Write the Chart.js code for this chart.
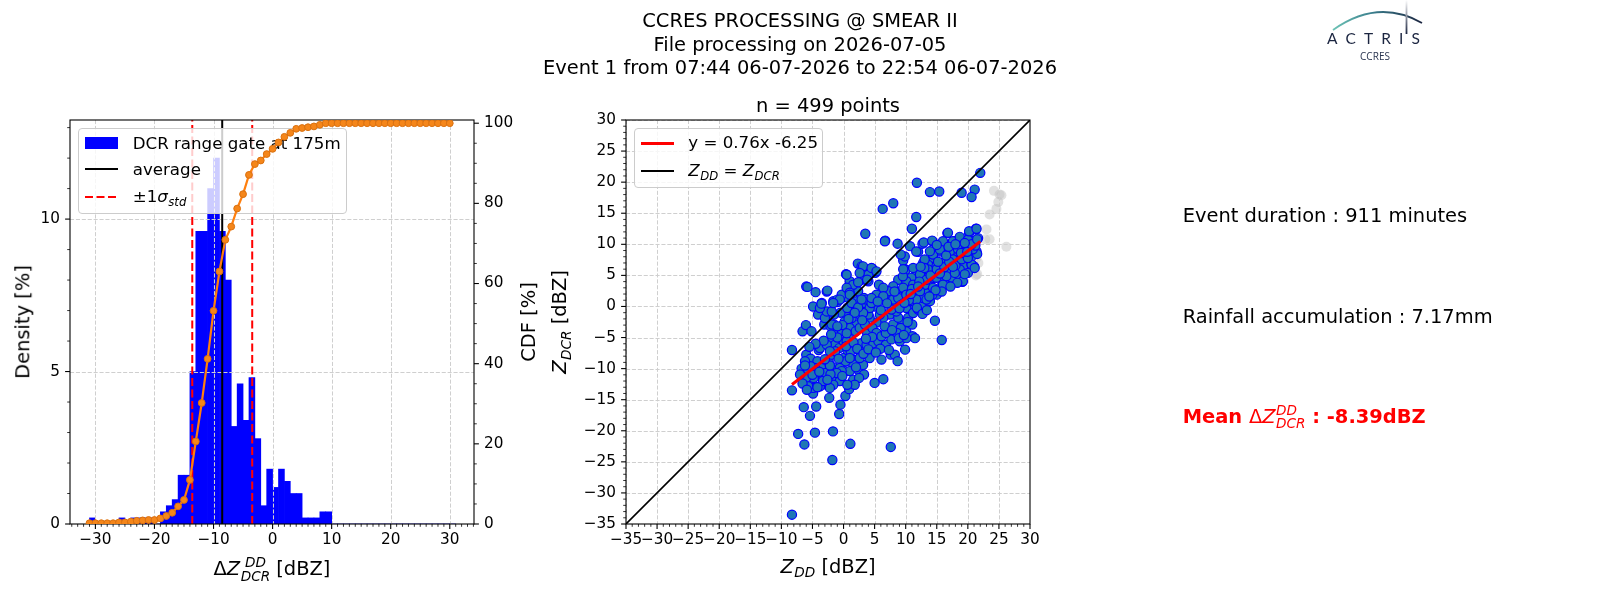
<!DOCTYPE html>
<html lang="en">
<head>
<meta charset="UTF-8">
<title>CCRES PROCESSING @ SMEAR II</title>
<script src="https://cdn.jsdelivr.net/npm/chart.js"></script>
<style>
    body { margin: 0; background: #fff; }
    #fig { position: relative; width: 1600px; height: 600px; overflow: hidden; font-family: 'DejaVu Sans', sans-serif; color: #000; }
    #fig canvas { position: absolute; left: 0; top: 0; }
    .t { position: absolute; white-space: nowrap; line-height: 1; }
    .c { transform: translateX(-50%); text-align: center; }
    .rot { position: absolute; white-space: nowrap; line-height: 1; font-size: 19.44px; transform: translate(-50%, -50%) rotate(-90deg); }
    .ss { display: inline-flex; flex-direction: column; font-size: 70%; line-height: 1; vertical-align: 0.57em; font-style: italic; margin-left: 0.04em; }
    .sb { font-size: 70%; vertical-align: -0.34em; font-style: italic; margin-left: 0.04em; line-height: 1; }
    .leg { position: absolute; box-sizing: border-box; background: rgba(255, 255, 255, 0.8); border: 1px solid #cccccc; border-radius: 4px; }
    .h { position: absolute; }
</style>
</head>
<body>
<div id="fig">
    <canvas id="hist" width="1600" height="600"></canvas>

    <!-- histogram legend sits between the bars and the CDF curve -->
    <div class="leg" style="left:78.3px;top:128.3px;width:268.4px;height:85.7px"></div>
    <div class="h" style="left:85px;top:137px;width:33.3px;height:11.7px;background:#0000ff"></div>
    <div class="h" style="left:85px;top:168.3px;width:33.3px;height:2px;background:#000"></div>
    <svg class="h" style="left:85px;top:195.3px" width="34" height="4"><line x1="0" y1="2" x2="33.3" y2="2" stroke="#ff0000" stroke-width="2" stroke-dasharray="8 3.5"/></svg>
    <div class="t" style="left:132.7px;font-size:16.67px" data-b="149.3">DCR range gate at 175m</div>
    <div class="t" style="left:132.7px;font-size:16.67px" data-b="175">average</div>
    <div class="t" style="left:132.7px;font-size:16.67px" data-b="201.7">±1<i>σ</i><span class="sb">std</span></div>

    <canvas id="cdf" width="1600" height="600"></canvas>
    <canvas id="scat" width="1600" height="600"></canvas>

    <div class="leg" style="left:634.3px;top:128.3px;width:189px;height:59.4px"></div>
    <div class="h" style="left:641px;top:141.8px;width:33.3px;height:3px;background:#ff0000"></div>
    <div class="h" style="left:641px;top:170px;width:33.3px;height:2px;background:#000"></div>
    <div class="t" style="left:688.3px;font-size:16.67px" data-b="148.3">y = 0.76x -6.25</div>
    <div class="t" style="left:688.3px;font-size:16.67px" data-b="176"><i>Z</i><span class="sb">DD</span> = <i>Z</i><span class="sb">DCR</span></div>

    <div class="t c" style="left:800px;font-size:19.44px;line-height:23.2px" data-b="73.9">CCRES PROCESSING @ SMEAR II<br>File processing on 2026-07-05<br>Event 1 from 07:44 06-07-2026 to 22:54 06-07-2026</div>
    <div class="t c" style="left:828px;font-size:19.44px" data-b="111.7">n = 499 points</div>

    <div class="rot" style="left:22.7px;top:322px">Density [%]</div>
    <div class="rot" style="left:529px;top:322px">CDF [%]</div>
    <div class="rot" style="left:562px;top:322px"><i>Z</i><span class="sb">DCR</span> [dBZ]</div>
    <div class="t c" style="left:272px;font-size:19.44px" data-b="575">Δ<i>Z</i><span class="ss"><span>DD</span><span>DCR</span></span> [dBZ]</div>
    <div class="t c" style="left:828px;font-size:19.44px" data-b="572.5"><i>Z</i><span class="sb">DD</span> [dBZ]</div>

    <div class="t" style="left:1182.7px;font-size:19.44px" data-b="221.7">Event duration : 911 minutes</div>
    <div class="t" style="left:1182.7px;font-size:19.44px" data-b="322.7">Rainfall accumulation : 7.17mm</div>
    <div class="t" style="left:1182.7px;font-size:19.44px;color:#ff0000" data-b="422.3"><b>Mean </b>Δ<i>Z</i><span class="ss"><span>DD</span><span>DCR</span></span><b> : -8.39dBZ</b></div>

    <svg style="position:absolute;left:1300px;top:0" width="130" height="70" viewBox="0 0 130 70">
        <defs>
            <linearGradient id="arcG" x1="0" x2="1" y1="0" y2="0">
                <stop offset="0" stop-color="#6cc3b5"/>
                <stop offset="0.45" stop-color="#3a7d8c"/>
                <stop offset="1" stop-color="#1b2540"/>
            </linearGradient>
            <linearGradient id="stemG" x1="0" x2="0" y1="0" y2="1">
                <stop offset="0" stop-color="#ffffff"/>
                <stop offset="1" stop-color="#1b2540"/>
            </linearGradient>
        </defs>
        <path d="M33,30 Q78,-2 122,23" fill="none" stroke="url(#arcG)" stroke-width="1.8"/>
        <rect x="105.6" y="0" width="1.8" height="34" fill="url(#stemG)"/>
        <text x="27" y="44" font-family="Lato, 'Open Sans', sans-serif" font-size="15.5" fill="#1b2540" textLength="93" lengthAdjust="spacing">ACTRIS</text>
        <text x="60" y="59.5" font-family="'Open Sans', Lato, sans-serif" font-size="10" fill="#2a3550" textLength="30" lengthAdjust="spacing">CCRES</text>
    </svg>
</div>

<script>
    // ---- histogram of delta Z (1 dBZ bins, left edges) ----
    const binLeft = [-31, -30, -29, -28, -27, -26, -25, -24, -23, -22, -21, -20, -19, -18, -17, -16, -15, -14, -13, -12, -11,
        -10, -9, -8, -7, -6, -5, -4, -3, -2, -1, 0, 1, 2, 3, 4, 5, 6, 7, 8, 9, 10, 11, 12, 13, 14, 15, 16, 17, 18, 19, 20,
        21, 22, 23, 24, 25, 26, 27, 28, 29, 30];
    const densityPct = [0.2, 0, 0, 0, 0, 0.2, 0, 0.2, 0.2, 0.2, 0.2, 0, 0.4, 0.6, 0.8, 1.6, 1.6, 5.0, 9.6, 9.6, 11.0,
        12.0, 9.6, 8.0, 3.2, 4.6, 3.4, 4.8, 2.8, 0.6, 1.8, 1.2, 1.8, 1.4, 1.0, 1.0, 0.2, 0.2, 0.2, 0.4, 0.4,
        0, 0, 0, 0, 0, 0, 0, 0, 0, 0, 0, 0, 0, 0, 0, 0, 0, 0, 0, 0, 0];
    const cdfPct = [0.2, 0.2, 0.2, 0.2, 0.2, 0.4, 0.4, 0.6, 0.8, 0.9, 1.0, 1.0, 1.4, 2.0, 2.8, 4.4, 6.0, 11.0, 20.6, 30.2,
        41.2, 53.2, 63.0, 70.9, 74.2, 78.7, 82.3, 87.1, 89.8, 90.7, 92.3, 93.6, 95.2, 96.6, 97.6, 98.6, 98.8, 99.0, 99.2, 99.6,
        100, 100, 100, 100, 100, 100, 100, 100, 100, 100, 100, 100, 100, 100, 100, 100, 100, 100, 100, 100, 100, 100];
    const avgDelta = -8.53;
    const sigmaLow = -13.6;
    const sigmaHigh = -3.45;

    const histXMin = -34.3, histXMax = 34.1;
    const histYMax = 13.25;
    const cdfYMax = 100.8;
    const histXTicks = [-30, -20, -10, 0, 10, 20, 30];
    const histYTicks = [0, 5, 10];
    const cdfTicks = [0, 20, 40, 60, 80, 100];

    // ---- scatter Z_DD vs Z_DCR ----
    const bluePts = [
        [-8.3, -33.5], [-8.3, -13.5], [-8.3, -7.0], [-7.3, -20.5], [-6.3, -22.2], [-6.4, -16.2], [-5.4, -17.6], [-4.6, -20.3],
        [-4.4, -16.1], [-1.8, -24.7], [-1.7, -20.1], [1.1, -22.1], [7.6, -22.6], [-0.7, -17.3], [-0.5, -15.8], [-2.3, -14.7],
        [-4.9, -14.0], [0.3, -14.4], [0.9, -13.3], [5.0, -12.3], [6.4, -11.7], [15.8, -5.4], [14.7, -2.3], [-6.0, 3.2],
        [-4.5, 2.3], [-2.7, 2.4], [3.5, 11.7], [6.3, 15.7], [8.0, 16.6], [11.8, 19.9], [13.9, 18.4], [15.4, 18.5],
        [19.0, 18.3], [21.1, 18.8], [20.6, 17.6], [22.0, 21.5], [11.7, 14.4], [11.0, 12.5], [6.7, 10.6], [8.7, 10.1],
        [2.3, 6.9], [0.4, 5.2], [4.6, 6.1], [5.1, 5.4], [5.7, 3.5], [8.8, 4.3], [9.9, 6.0], [9.6, 7.4], [12.0, 8.8],
        [12.7, 10.1], [14.3, 10.5], [16.7, 11.8],
        [-6.75, -10.0], [-6.5, -11.8], [-6.0, -7.75], [-5.7, -10.2], [-5.3, -8.4], [-4.9, -12.6], [-4.8, -11.5], [-4.2, -8.8],
        [-4.0, -7.0], [-3.6, -9.9], [-3.3, -11.5], [-2.9, -10.7], [-2.7, -12.6], [-2.4, -8.8], [-1.9, -7.75], [-1.9, -5.3],
        [-1.55, -9.8], [-1.35, -11.5], [-0.6, -12.0], [-0.6, -9.9], [0.0, -8.3], [0.3, -10.4], [0.6, -7.0], [0.8, -5.1],
        [1.55, -11.8], [1.8, -8.6], [2.35, -10.2], [2.6, -7.2], [2.9, -5.9], [3.15, -9.4], [3.7, -6.15], [3.8, -4.3],
        [4.2, -8.3], [4.8, -5.9], [5.6, -5.6], [6.1, -8.55], [6.8, -6.15], [7.2, -4.0], [7.7, -5.3], [7.6, -7.75],
        [8.25, -7.75], [8.7, -8.8], [9.05, -5.6], [9.9, -6.95], [10.1, -4.0], [11.1, -4.8], [11.5, -5.1], [11.05, -2.9],
        [10.4, -1.8], [9.5, -2.6], [8.0, -2.9], [7.45, -1.3], [6.4, -1.8], [5.3, -2.6], [4.2, -1.8], [4.0, -1.3],
        [2.6, -1.3], [1.55, -0.25], [0.5, -1.3], [-0.5, -1.0], [-1.55, -1.3], [-2.7, -1.8], [-3.1, -2.9], [-4.1, -1.3],
        [-4.9, 0.0], [-3.5, 0.55], [-1.65, 0.85], [-1.0, 0.7], [-0.3, 1.35], [0.8, 1.35], [1.55, 0.3], [2.35, 2.45],
        [2.9, 4.3], [4.0, 4.05], [3.3, 0.55], [4.9, 1.35], [5.85, 1.35], [6.9, 1.35], [7.7, 1.9], [8.4, 0.3],
        [8.95, 2.2], [9.5, 1.65], [10.0, 2.45], [10.55, 3.5], [11.2, 0.3], [11.75, 1.35], [12.3, 2.2], [12.9, 3.0],
        [12.5, 4.05], [13.2, 5.1], [13.35, 0.55], [13.5, 2.45], [13.9, 3.5], [14.4, 4.6], [14.7, 5.65], [15.0, 1.9],
        [15.5, 3.0], [16.0, 4.05], [16.5, 5.1], [16.8, 3.5], [17.1, 6.45], [17.4, 4.6], [17.9, 5.65], [18.2, 7.25],
        [18.4, 8.85], [18.7, 4.6], [19.1, 3.95], [19.25, 6.45], [19.5, 8.05], [19.8, 9.95], [20.2, 11.8], [20.3, 8.35],
        [20.6, 6.7], [20.85, 10.5], [21.3, 12.5], [21.4, 8.85], [21.0, 6.45], [21.65, 11.0], [18.7, 11.0], [17.9, 10.5],
        [16.0, 10.5], [15.5, 8.85], [14.4, 7.8], [13.6, 6.7], [12.8, 7.0], [11.75, 5.4], [10.9, 4.6], [10.1, 4.05],
        [9.6, 3.0], [8.0, 3.25], [7.2, 2.45], [6.4, 3.0], [8.8, -1.8], [8.5, -0.8], [7.7, -0.5], [5.85, -1.3],
        [5.05, 0.0], [4.2, -0.25], [3.15, -1.05], [2.1, -2.9], [1.3, -1.85], [0.2, -2.4], [1.0, -3.45], [1.95, -4.0],
        [2.6, -3.45], [3.45, -2.9], [4.65, -3.45], [5.3, -4.25], [6.1, -4.8], [6.8, -4.25], [9.2, -3.45], [10.1, -5.1],
        [8.6, -4.25], [-1.1, -4.25], [-0.25, -3.9], [-1.55, -2.9], [-2.1, -3.2], [-1.35, -6.15], [-0.7, -6.7], [0.0, -5.6],
        [0.5, -5.6], [1.15, -7.2], [1.55, -9.35], [1.0, -10.4], [-0.3, -10.4], [-1.1, -10.7], [-2.1, -10.9], [-3.0, -12.3],
        [-3.8, -12.85], [-4.6, -9.9], [-5.3, -9.6], [-6.05, -11.5], [-7.0, -10.95], [-3.8, -6.7], [-2.7, -6.15], [-1.35, -7.2],
        [-2.2, -7.2], [0.35, -8.8], [1.0, -8.3], [2.6, -8.3], [3.3, -10.95], [2.5, -11.5], [1.8, -12.6], [0.6, -12.6],
        [-1.65, -12.6], [-2.2, -13.1], [-3.3, -12.0], [-4.9, -13.1], [-5.7, -12.85], [-6.2, -8.8], [-6.6, -4.0], [-6.05, -3.0],
        [-5.15, -4.0], [-3.0, -1.85], [-2.7, -0.8], [-3.8, -0.25], [-1.9, -2.9],
        [2.9, 6.45], [3.15, 5.65], [4.0, 5.1], [1.0, 4.05], [1.55, 3.5], [-0.3, 1.9], [0.5, 3.0], [1.0, 2.2],
        [2.1, 0.85], [-1.0, 1.1], [-1.9, -0.8], [0.6, -0.25], [1.3, 0.55], [2.35, -0.15], [3.3, 1.35], [3.7, 1.1],
        [4.5, 0.55], [5.3, 1.9], [6.4, 1.35], [8.0, 1.1], [8.8, 1.35], [9.3, 0.3], [10.1, -0.25], [10.7, 0.85],
        [11.2, -1.05], [12.0, -0.5], [12.5, 0.3], [12.8, 1.35], [13.9, 0.85], [14.3, 1.9], [13.1, 3.5],
        [10.0, 5.9], [10.7, 9.7], [9.85, 8.05], [11.7, 8.85], [11.2, 6.2], [13.05, 7.55], [14.4, 8.35], [15.5, 9.15],
        [17.1, 8.85], [18.4, 9.25], [19.8, 9.4], [20.6, 8.05], [21.5, 8.45], [20.6, 6.75], [19.2, 4.05], [18.7, 5.95],
        [17.1, 5.65], [16.0, 7.0], [17.6, 7.55], [14.95, 6.45], [13.6, 5.95], [12.3, 5.15], [11.2, 3.5], [13.35, 4.3],
        [14.95, 4.6], [16.55, 4.85], [17.9, 5.4], [16.0, 3.5], [14.4, 3.0], [12.3, 2.45], [13.35, 1.1], [11.7, 1.1],
        [10.1, 1.9], [9.55, 4.85], [20.0, 5.4], [21.1, 6.2], [12.9, 10.3], [14.25, 10.6], [17.6, 10.5], [18.7, 11.2],
        [20.0, 10.75], [16.8, 11.85], [20.2, 12.1], [21.4, 12.5],
        [6.65, 10.5], [9.2, 8.35], [9.6, 6.0], [3.15, 6.45], [4.5, 6.2], [5.3, 5.65], [0.5, 5.1], [2.6, 5.4],
        [3.8, 4.3], [2.35, 3.9], [-5.8, 3.15], [-2.6, 2.55], [-0.6, 1.1], [-1.65, 0.55], [1.0, 1.9], [2.9, 1.1],
        [4.5, 1.35], [6.4, 1.65], [-3.55, 0.45],
        [14.0, 5.0], [15.0, 6.0], [16.2, 6.3], [17.0, 7.2], [18.0, 6.6], [19.0, 7.6], [20.0, 7.8], [20.8, 9.2],
        [21.2, 9.8], [19.5, 5.2], [18.3, 3.8], [17.2, 3.2], [15.8, 2.4], [14.8, 2.6], [13.8, 1.6], [16.5, 8.2],
        [15.2, 7.2], [13.0, 6.2], [12.2, 4.0], [11.0, 2.8], [10.5, 1.0], [11.8, -0.2], [12.7, -1.2], [13.4, -0.6],
        [10.3, -2.5], [9.0, -0.3], [7.0, 0.5], [6.0, -0.6], [5.5, 0.8], [3.0, -2.2], [1.8, -1.0], [0.8, -2.0],
        [-0.2, -3.0], [-1.0, -5.0], [-2.0, -4.5], [-3.2, -5.5], [-4.5, -6.0], [-5.5, -6.5], [-6.2, -9.5], [-5.0, -11.0],
        [-3.9, -10.5], [-2.2, -9.5], [-0.8, -8.4], [0.4, -6.4], [1.6, -5.8], [2.2, -6.8], [3.2, -7.6], [4.0, -6.9],
        [4.6, -4.9], [5.9, -6.8], [6.6, -3.2], [7.8, -3.8], [8.9, -5.1], [9.7, -4.6], [7.3, -7.0], [5.2, -7.4],
        [3.6, -5.2], [2.0, -9.8], [-0.2, -11.2], [-2.6, -11.8], [-4.2, -13.0], [-6.6, -12.4], [-5.9, -13.4], [-3.0, -8.5],
        [-1.0, -3.2], [0.5, -4.3], [9.8, 0.6], [8.2, 2.4], [10.8, 2.0], [12.0, 3.2], [15.5, 5.3], [17.6, 6.4],
        [18.9, 8.6], [19.9, 8.8], [16.9, 9.6], [15.0, 9.9], [13.9, 8.9], [12.4, 6.4], [20.6, 10.0], [21.5, 10.8],
        [19.5, 10.2], [18.0, 10.0]
    ];
    const greyPts = [
        [24.2, 18.6], [25.1, 18.0], [25.4, 17.9], [24.9, 16.8], [24.6, 15.7], [23.5, 14.8], [23.0, 12.4], [23.5, 10.8],
        [22.8, 10.8], [26.2, 9.6], [21.4, 7.8], [21.7, 7.0], [21.3, 5.0], [21.5, 5.2]
    ];
    const regDD = [-8.3, 22.0];
    const regDCR = [-12.55, 10.45];
    const oneToOne = [-35, 30];
    const scatTicks = [-35, -30, -25, -20, -15, -10, -5, 0, 5, 10, 15, 20, 25, 30];

    Chart.defaults.font.family = "'DejaVu Sans', sans-serif";
    Chart.defaults.font.size = 15.28;
    Chart.defaults.color = '#000';

    const fmt = v => (v < 0 ? '\u2212' : '') + Math.abs(v);
    const isMajor = (list, v) => list.some(m => Math.abs(m - v) < 1e-6);

    // dashed grid drawn after a given dataset, outside ticks (major/minor) and the box
    function axisDecor(majors, gridMajors, gridAfter, spines) {
        return {
            id: 'axisDecor',
            afterDatasetDraw(chart, args) {
                if (args.index !== gridAfter) return;
                const ctx = chart.ctx, a = chart.chartArea;
                ctx.save();
                ctx.beginPath();
                ctx.rect(a.left, a.top, a.right - a.left, a.bottom - a.top);
                ctx.clip();
                ctx.strokeStyle = '#cfcfcf';
                ctx.lineWidth = 1;
                ctx.setLineDash([4.1, 1.8]);
                Object.keys(gridMajors).forEach(id => {
                    const s = chart.scales[id];
                    gridMajors[id].forEach(v => {
                        const p = Math.round(s.getPixelForValue(v)) + 0.5;
                        ctx.beginPath();
                        if (s.isHorizontal()) { ctx.moveTo(p, a.top); ctx.lineTo(p, a.bottom); }
                        else { ctx.moveTo(a.left, p); ctx.lineTo(a.right, p); }
                        ctx.stroke();
                    });
                });
                ctx.restore();
            },
            afterDraw(chart) {
                const ctx = chart.ctx, a = chart.chartArea;
                ctx.save();
                ctx.strokeStyle = '#000';
                if (spines) {
                    ctx.lineWidth = 1.1;
                    ctx.strokeRect(a.left, a.top, a.right - a.left, a.bottom - a.top);
                }
                Object.keys(majors).forEach(id => {
                    const s = chart.scales[id];
                    s.ticks.forEach(t => {
                        const major = isMajor(majors[id], t.value);
                        const len = major ? 4.9 : 2.8;
                        const p = s.getPixelForValue(t.value);
                        ctx.lineWidth = major ? 1.1 : 0.8;
                        ctx.beginPath();
                        if (s.position === 'bottom') { ctx.moveTo(p, a.bottom); ctx.lineTo(p, a.bottom + len); }
                        else if (s.position === 'left') { ctx.moveTo(a.left, p); ctx.lineTo(a.left - len, p); }
                        else { ctx.moveTo(a.right, p); ctx.lineTo(a.right + len, p); }
                        ctx.stroke();
                    });
                });
                ctx.restore();
            }
        };
    }

    const noGrid = { display: false, drawTicks: false };
    const noBorder = { display: false };
    const baseOpts = {
        responsive: false,
        animation: false,
        devicePixelRatio: 1,
        events: [],
        plugins: { legend: { display: false }, tooltip: { enabled: false } }
    };
    const labelFor = list => v => isMajor(list, v) ? fmt(Math.round(v)) : '';

    // left panel: bars + mean / sigma lines
    new Chart(document.getElementById('hist'), {
        type: 'bar',
        data: {
            datasets: [
                {
                    type: 'bar',
                    data: binLeft.map((e, i) => ({ x: e + 0.5, y: densityPct[i] })),
                    backgroundColor: '#0000ff',
                    borderWidth: 0,
                    barPercentage: 1,
                    categoryPercentage: 1,
                    order: 3
                },
                {
                    type: 'line',
                    data: [{ x: avgDelta, y: 0 }, { x: avgDelta, y: histYMax }],
                    borderColor: '#000', borderWidth: 2, pointRadius: 0, order: 1
                },
                {
                    type: 'line',
                    data: [{ x: sigmaLow, y: 0 }, { x: sigmaLow, y: histYMax }],
                    borderColor: '#ff0000', borderWidth: 2, borderDash: [8, 3.5], pointRadius: 0, order: 1
                },
                {
                    type: 'line',
                    data: [{ x: sigmaHigh, y: 0 }, { x: sigmaHigh, y: histYMax }],
                    borderColor: '#ff0000', borderWidth: 2, borderDash: [8, 3.5], pointRadius: 0, order: 1
                }
            ]
        },
        options: {
            ...baseOpts,
            layout: { padding: { left: 0, top: 120, right: 1126, bottom: 0 } },
            scales: {
                x: {
                    type: 'linear', min: histXMin, max: histXMax, offset: false,
                    grid: noGrid, border: noBorder,
                    ticks: { stepSize: 1, autoSkip: false, maxRotation: 0, includeBounds: false, padding: 7,
                        callback: labelFor(histXTicks) },
                    afterFit: s => { s.height = 76; }
                },
                y: {
                    type: 'linear', min: 0, max: histYMax,
                    grid: noGrid, border: noBorder,
                    ticks: { stepSize: 1, autoSkip: false, includeBounds: false, padding: 10,
                        callback: labelFor(histYTicks) },
                    afterFit: s => { s.width = 70; }
                }
            }
        },
        plugins: [axisDecor({ x: histXTicks, y: histYTicks }, { x: histXTicks, y: histYTicks }, 0, true)]
    });

    // left panel twin axis: CDF
    new Chart(document.getElementById('cdf'), {
        type: 'line',
        data: {
            datasets: [{
                data: binLeft.map((e, i) => ({ x: e, y: cdfPct[i] })),
                yAxisID: 'y2',
                borderColor: '#ff7f0e',
                borderWidth: 2.2,
                pointRadius: 3.4,
                pointBackgroundColor: '#f5861a',
                pointBorderColor: '#d9700f',
                pointBorderWidth: 1,
                tension: 0
            }]
        },
        options: {
            ...baseOpts,
            layout: { padding: { left: 70, top: 120, right: 1046, bottom: 76 } },
            scales: {
                x: { type: 'linear', display: false, min: histXMin, max: histXMax },
                y2: {
                    type: 'linear', position: 'right', min: 0, max: cdfYMax,
                    grid: noGrid, border: noBorder,
                    ticks: { stepSize: 5, autoSkip: false, includeBounds: false, padding: 10,
                        callback: labelFor(cdfTicks) },
                    afterFit: s => { s.width = 80; }
                }
            }
        },
        plugins: [axisDecor({ y2: cdfTicks }, {}, -1, false)]
    });

    // right panel: scatter (grid sits under the blue points)
    new Chart(document.getElementById('scat'), {
        type: 'scatter',
        data: {
            datasets: [
                {
                    data: greyPts.map(p => ({ x: p[0], y: p[1] })),
                    pointRadius: 5, pointBorderWidth: 0,
                    pointBackgroundColor: 'rgba(195, 195, 195, 0.5)', order: 5
                },
                {
                    data: bluePts.map(p => ({ x: p[0], y: p[1] })),
                    pointRadius: 4.6, pointBorderWidth: 1.2,
                    pointBackgroundColor: '#1f77b4', pointBorderColor: '#0000ff', order: 4
                },
                {
                    type: 'line',
                    data: [{ x: regDD[0], y: regDCR[0] }, { x: regDD[1], y: regDCR[1] }],
                    borderColor: '#ff0000', borderWidth: 3, pointRadius: 0, order: 2
                },
                {
                    type: 'line',
                    data: [{ x: oneToOne[0], y: oneToOne[0] }, { x: oneToOne[1], y: oneToOne[1] }],
                    borderColor: '#000', borderWidth: 1.6, pointRadius: 0, order: 1
                }
            ]
        },
        options: {
            ...baseOpts,
            layout: { padding: { left: 546, top: 120, right: 570, bottom: 0 } },
            scales: {
                x: {
                    type: 'linear', min: -35, max: 30,
                    grid: noGrid, border: noBorder,
                    ticks: { stepSize: 1, autoSkip: false, maxRotation: 0, includeBounds: false, padding: 7,
                        callback: labelFor(scatTicks) },
                    afterFit: s => { s.height = 76; }
                },
                y: {
                    type: 'linear', min: -35, max: 30,
                    grid: noGrid, border: noBorder,
                    ticks: { stepSize: 1, autoSkip: false, includeBounds: false, padding: 10,
                        callback: labelFor(scatTicks) },
                    afterFit: s => { s.width = 80; }
                }
            }
        },
        plugins: [axisDecor({ x: scatTicks, y: scatTicks }, { x: scatTicks, y: scatTicks }, 0, true)]
    });

    // put each text line on its baseline
    const figTop = document.getElementById('fig').getBoundingClientRect().top;
    document.querySelectorAll('[data-b]').forEach(el => {
        const m = document.createElement('span');
        m.style.cssText = 'display:inline-block;width:0;height:0;';
        el.appendChild(m);
        const base = m.getBoundingClientRect().bottom - figTop;
        el.style.top = (el.offsetTop + (+el.dataset.b - base)) + 'px';
        m.remove();
    });
</script>
</body>
</html>
